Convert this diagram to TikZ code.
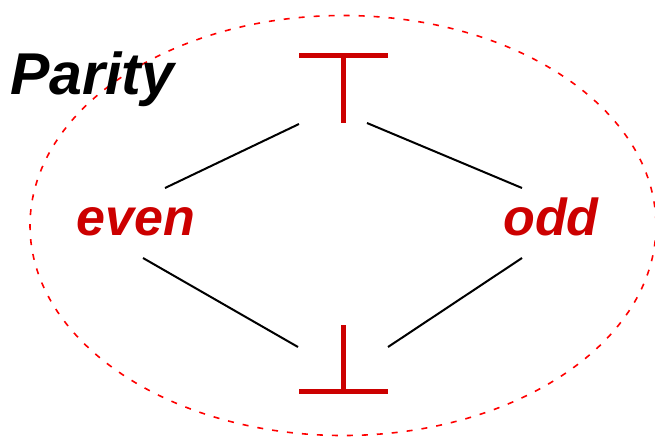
\documentclass[tikz,border=0pt]{standalone}
\usepackage{fontspec}
\setmainfont{Liberation Sans}
\begin{document}
\begin{tikzpicture}[x=1pt,y=-1pt,
  lbl/.style={font=\fontsize{52}{60}\selectfont\bfseries\itshape, inner sep=0pt, anchor=base},
  biglbl/.style={lbl, font=\fontsize{59}{68}\selectfont\bfseries\itshape},
  redlbl/.style={lbl, text=darkred},
  edge/.style={draw=black, line width=2pt},
  sym/.style={draw=darkred, line width=4.5pt},
]
\definecolor{darkred}{RGB}{204,0,0}
\useasboundingbox (0,0) rectangle (655,440);
\draw[red, line width=1.6pt, dash pattern=on 6pt off 9pt] (343,225.5) ellipse [x radius=313, y radius=210];
\node[biglbl] (parity) at (92,94) {Parity};
\node[redlbl] (even) at (136,235) {even};
\node[redlbl] (odd) at (551,235) {odd};
% top
\coordinate (tl) at (299,55.5);
\coordinate (tr) at (388,55.5);
\coordinate (tm) at (343.5,55.5);
\coordinate (tb) at (343.5,123);
\draw[sym] (tl) -- (tr);
\draw[sym] (tm) -- (tb);
% bottom
\coordinate (bl) at (299,391.5);
\coordinate (br) at (388,391.5);
\coordinate (bm) at (343.5,391.5);
\coordinate (bt) at (343.5,325);
\draw[sym] (bl) -- (br);
\draw[sym] (bm) -- (bt);
% edges
\coordinate (t1) at (299,124);
\coordinate (t2) at (367,123);
\coordinate (b1) at (298,347);
\coordinate (b2) at (388,347);
\coordinate (e1) at (165,188);
\coordinate (e2) at (143,258);
\coordinate (o1) at (522,188);
\coordinate (o2) at (522,258);
\draw[edge] (t1) -- (e1);
\draw[edge] (t2) -- (o1);
\draw[edge] (e2) -- (b1);
\draw[edge] (o2) -- (b2);
\end{tikzpicture}
\end{document}
